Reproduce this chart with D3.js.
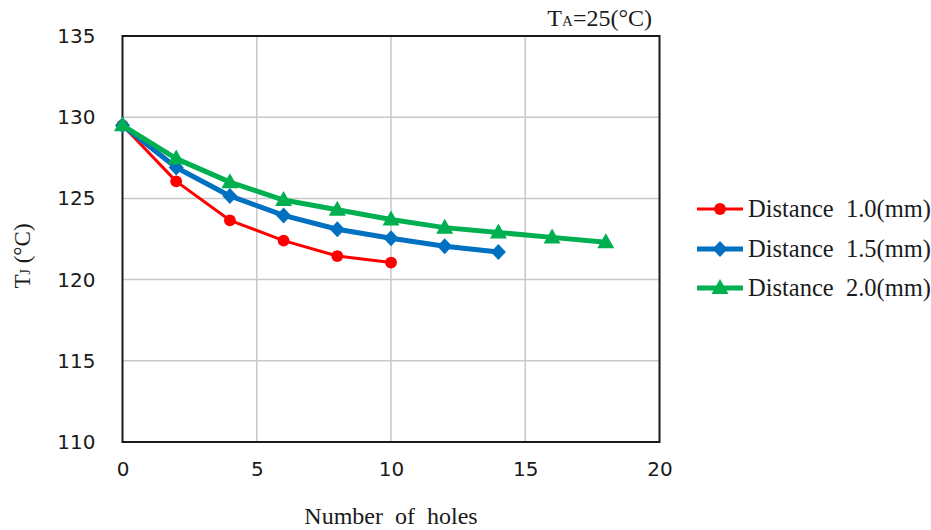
<!DOCTYPE html>
<html>
<head>
<meta charset="utf-8">
<script src="https://cdn.jsdelivr.net/npm/d3@7"></script>
<style>
  html, body { margin: 0; padding: 0; background: #fff; }
  svg { display: block; }
</style>
</head>
<body>
<svg id="chart" width="931" height="530"></svg>
<script>
// Junction temperature vs. number of thermal holes, per hole spacing
const holes10 = [0, 2, 4, 6, 8, 10];
const tj10 = [129.5, 126.05, 123.65, 122.4, 121.45, 121.05];

const holes15 = [0, 2, 4, 6, 8, 10, 12, 14];
const tj15 = [129.5, 126.9, 125.15, 123.95, 123.1, 122.55, 122.05, 121.7];

const holes20 = [0, 2, 4, 6, 8, 10, 12, 14, 16, 18];
const tj20 = [129.5, 127.45, 126.0, 124.9, 124.3, 123.7, 123.2, 122.9, 122.6, 122.3];

const seriesNames = ["Distance  1.0(mm)", "Distance  1.5(mm)", "Distance  2.0(mm)"];
const xTicks = [0, 5, 10, 15, 20];
const yTicks = [110, 115, 120, 125, 130, 135];

const svg = d3.select("#chart");
const plotL = 122.5, plotR = 659.5, plotT = 36, plotB = 442;

const x = d3.scaleLinear().domain([0, 20]).range([plotL, plotR]);
const y = d3.scaleLinear().domain([110, 135]).range([plotB, plotT]);

// grid
svg.append("g").selectAll("line").data(xTicks.slice(1, -1)).join("line")
  .attr("x1", d => x(d)).attr("x2", d => x(d)).attr("y1", plotT).attr("y2", plotB)
  .attr("stroke", "#c8c8c8").attr("stroke-width", 1.5);
svg.append("g").selectAll("line").data(yTicks.slice(1, -1)).join("line")
  .attr("x1", plotL).attr("x2", plotR).attr("y1", d => y(d)).attr("y2", d => y(d))
  .attr("stroke", "#c8c8c8").attr("stroke-width", 1.5);

// plot frame
svg.append("rect").attr("x", plotL).attr("y", plotT)
  .attr("width", plotR - plotL).attr("height", plotB - plotT)
  .attr("fill", "none").attr("stroke", "#1a1a1a").attr("stroke-width", 2);

// axes (labels only)
const yAxis = d3.axisLeft(y).tickValues(yTicks).tickSize(0).tickPadding(27);
const gy = svg.append("g").attr("transform", `translate(${plotL},0)`).call(yAxis);
gy.select(".domain").remove();
gy.selectAll("text").attr("font-family", "DejaVu Sans, Verdana, sans-serif")
  .attr("font-size", 20).attr("fill", "#1a1a1a");

const xAxis = d3.axisBottom(x).tickValues(xTicks).tickSize(0).tickPadding(20);
const gx = svg.append("g").attr("transform", `translate(0,${plotB})`).call(xAxis);
gx.select(".domain").remove();
gx.selectAll("text").attr("font-family", "DejaVu Sans, Verdana, sans-serif")
  .attr("font-size", 20).attr("fill", "#1a1a1a");

// axis titles
const serif = "Liberation Serif, Times New Roman, serif";
svg.append("text").attr("x", 391).attr("y", 524)
  .attr("text-anchor", "middle").attr("font-family", serif).attr("font-size", 24)
  .attr("fill", "#1a1a1a").attr("xml:space", "preserve").text("Number  of  holes");

const yt = svg.append("text")
  .attr("transform", "translate(30,256) rotate(-90)")
  .attr("text-anchor", "middle").attr("font-family", serif).attr("font-size", 23)
  .attr("fill", "#1a1a1a");
yt.append("tspan").text("T");
yt.append("tspan").attr("font-size", 14).text("J");
yt.append("tspan").text(" (°C)");

const ta = svg.append("text").attr("x", 652).attr("y", 26)
  .attr("text-anchor", "end").attr("font-family", serif).attr("font-size", 24)
  .attr("fill", "#1a1a1a");
ta.append("tspan").text("T");
ta.append("tspan").attr("font-size", 15).text("A");
ta.append("tspan").text("=25(°C)");

// series
const series = [
  { name: seriesNames[0], xs: holes10, ys: tj10, color: "#ff0000", width: 3, shape: "circle" },
  { name: seriesNames[1], xs: holes15, ys: tj15, color: "#0070c0", width: 5, shape: "diamond" },
  { name: seriesNames[2], xs: holes20, ys: tj20, color: "#00b050", width: 5, shape: "triangle" }
];

function markerPath(shape) {
  if (shape === "circle") return d3.symbol(d3.symbolCircle, 110)();
  if (shape === "diamond") return "M0,-8L7.5,0L0,8L-7.5,0Z";
  return "M0,-9L8.5,6L-8.5,6Z";
}

const line = d3.line().x(d => x(d[0])).y(d => y(d[1]));

series.forEach(s => {
  const pts = s.xs.map((v, i) => [v, s.ys[i]]);
  svg.append("path").datum(pts).attr("d", line)
    .attr("fill", "none").attr("stroke", s.color).attr("stroke-width", s.width)
    .attr("stroke-linejoin", "round");
  svg.append("g").selectAll("path").data(pts).join("path")
    .attr("d", markerPath(s.shape))
    .attr("transform", d => `translate(${x(d[0])},${y(d[1])})`)
    .attr("fill", s.color);
});

// legend
const legendY = [209, 249, 288];
series.forEach((s, i) => {
  const g = svg.append("g").attr("transform", `translate(0,${legendY[i]})`);
  g.append("line").attr("x1", 697).attr("x2", 743).attr("y1", 0).attr("y2", 0)
    .attr("stroke", s.color).attr("stroke-width", s.width);
  g.append("path").attr("d", markerPath(s.shape)).attr("transform", "translate(720,0)")
    .attr("fill", s.color);
  g.append("text").attr("x", 748).attr("y", 8).attr("font-family", serif)
    .attr("font-size", 24.5).attr("fill", "#1a1a1a").attr("xml:space", "preserve")
    .text(s.name);
});
</script>
</body>
</html>
